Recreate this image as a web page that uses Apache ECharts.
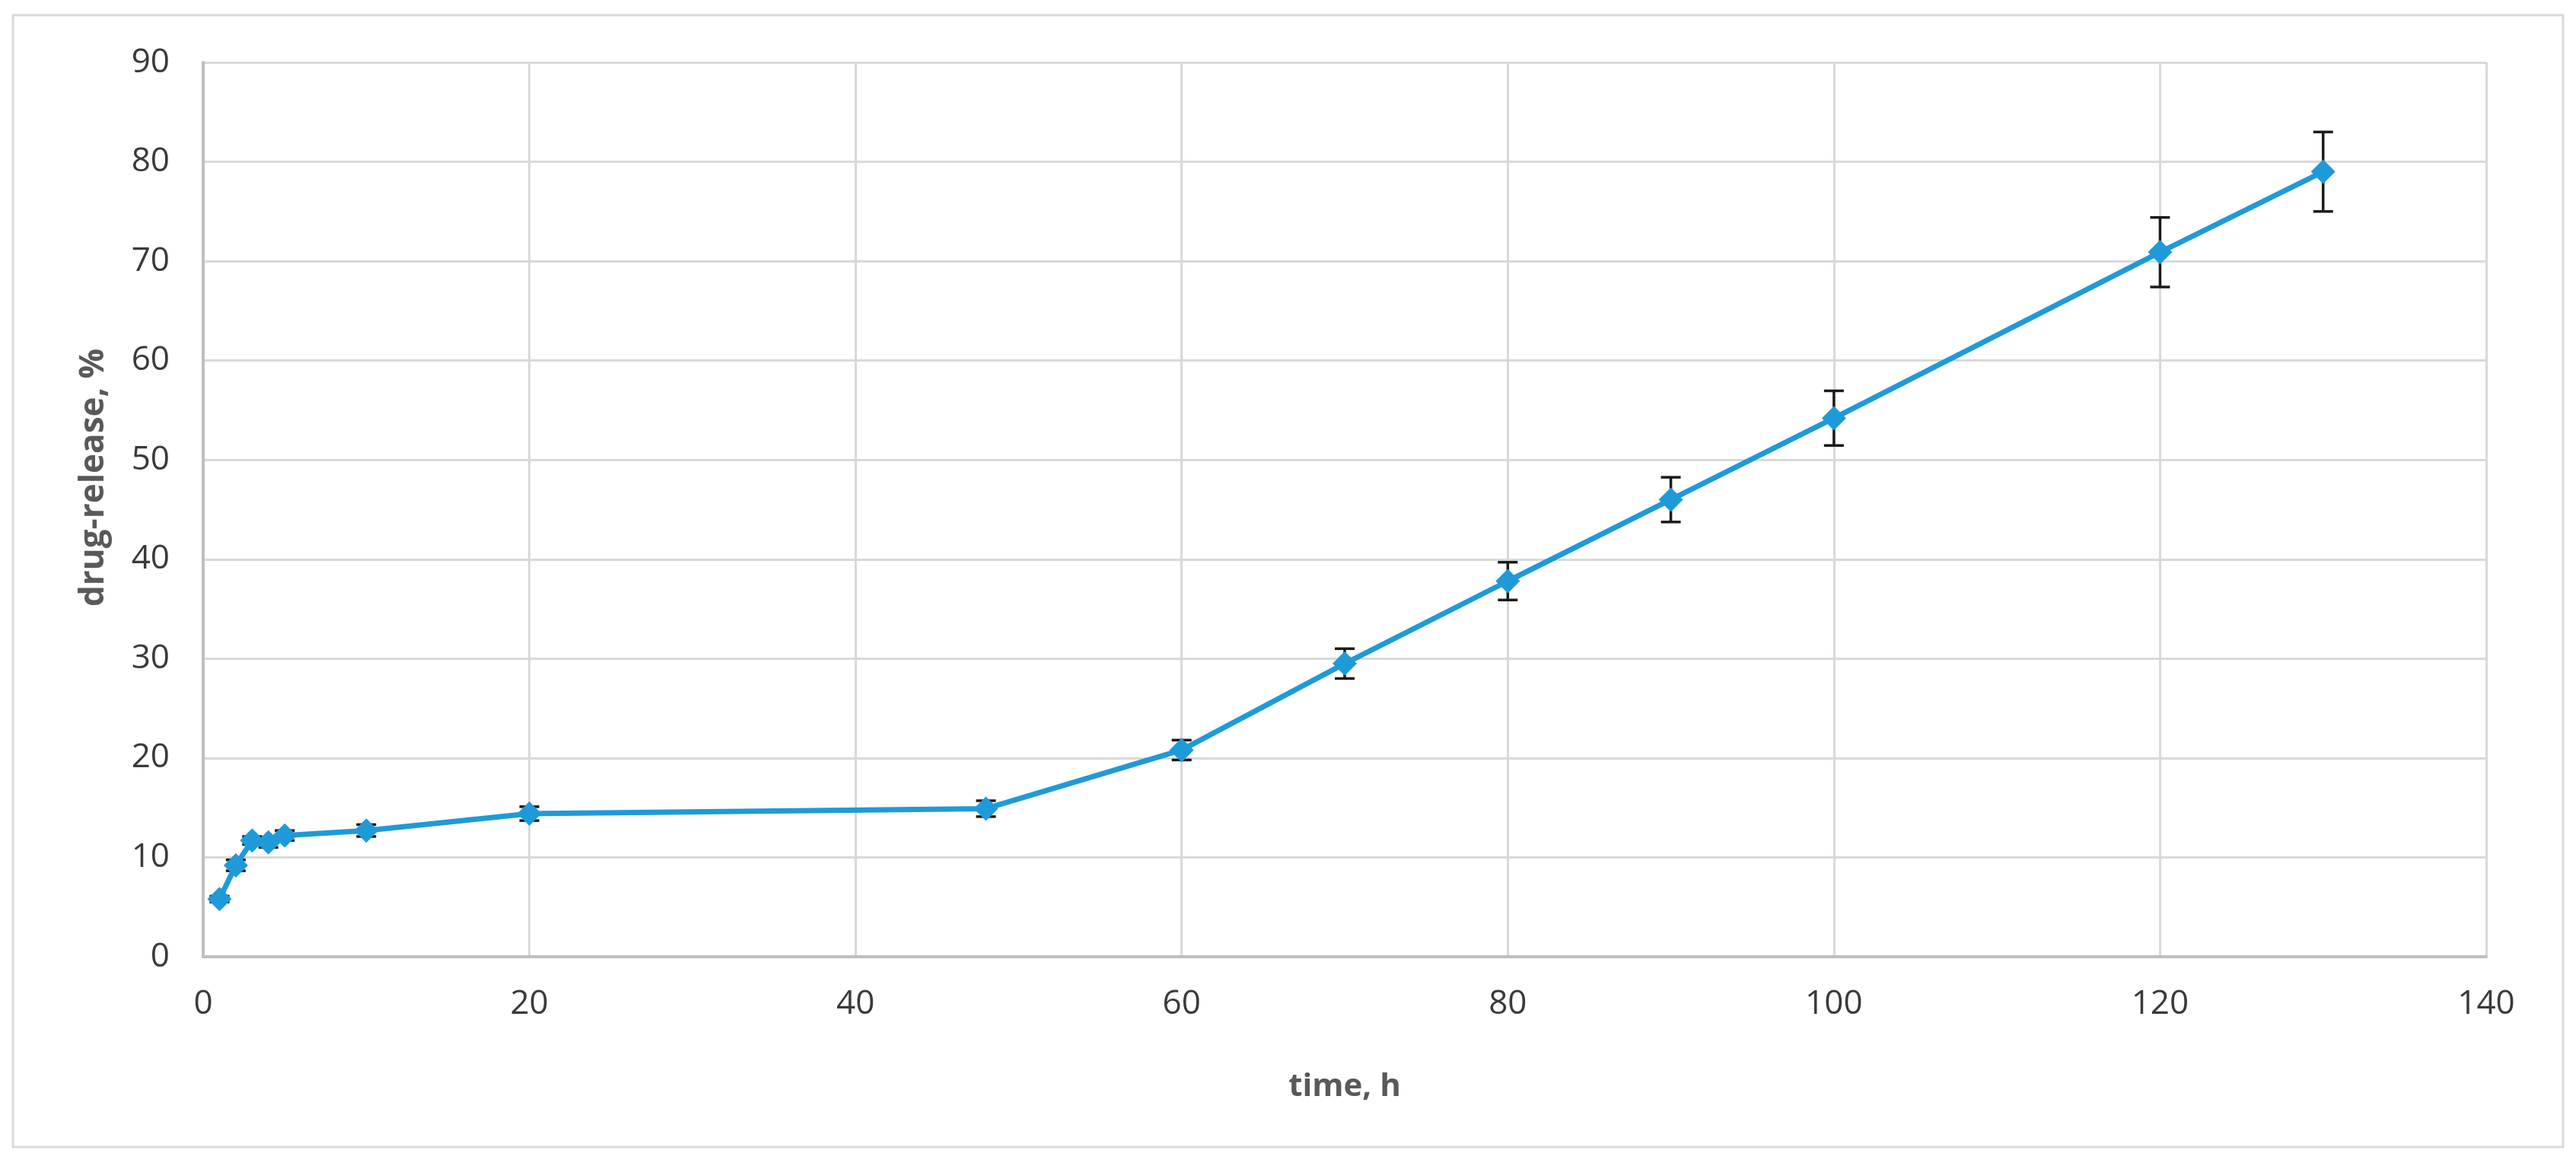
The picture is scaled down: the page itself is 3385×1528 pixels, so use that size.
<!DOCTYPE html>
<html>
<head>
<meta charset="utf-8">
<script src="https://cdn.jsdelivr.net/npm/echarts@6/dist/echarts.min.js"></script>
<style>
  html, body { margin: 0; padding: 0; background: #fff; }
  #main { width: 3385px; height: 1528px; }
</style>
</head>
<body>
<div id="main"></div>
<script>
// sampling times, h
const times = [1, 2, 3, 4, 5, 10, 20, 48, 60, 70, 80, 90, 100, 120, 130];
// mean drug release, %
const release = [5.8, 9.2, 11.7, 11.5, 12.2, 12.7, 14.4, 14.9, 20.8, 29.5, 37.8, 46.0, 54.2, 70.9, 79.0];
// standard deviation (error bar half-length), %
const errors = [0.3, 0.55, 0.4, 0.5, 0.5, 0.6, 0.7, 0.8, 1.0, 1.5, 1.9, 2.25, 2.75, 3.5, 4.0];

const lineColor = '#1f9ad8';
const pts = times.map((t, i) => [t, release[i]]);
const errData = times.map((t, i) => [t, release[i] - errors[i], release[i] + errors[i]]);

const chart = echarts.init(document.getElementById('main'));

chart.setOption({
  backgroundColor: '#fff',
  animation: false,
  graphic: [{
    type: 'rect',
    shape: { x: 17, y: 20, width: 3351, height: 1487 },
    style: { fill: 'none', stroke: '#d9d9d9', lineWidth: 3 },
    silent: true
  }],
  grid: { left: 267, top: 82, right: 118, bottom: 271 },
  xAxis: {
    type: 'value',
    min: 0, max: 140, interval: 20,
    name: 'time, h',
    nameLocation: 'middle',
    nameGap: 150,
    nameTextStyle: { fontFamily: 'Open Sans', fontSize: 42, fontWeight: 'bold', color: '#595959' },
    axisLine: { show: true, lineStyle: { color: '#bfbfbf', width: 4 } },
    axisTick: { show: false },
    axisLabel: { fontFamily: 'Open Sans', fontSize: 44, color: '#3a3a3a', margin: 40 },
    splitLine: { show: true, lineStyle: { color: '#d9d9d9', width: 3 } }
  },
  yAxis: {
    type: 'value',
    min: 0, max: 90, interval: 10,
    name: 'drug-release, %',
    nameLocation: 'middle',
    nameGap: 122,
    nameRotate: 90,
    nameTextStyle: { fontFamily: 'Open Sans', fontSize: 44, fontWeight: 'bold', color: '#595959', padding: [0, 0, 0, 84] },
    axisLine: { show: true, lineStyle: { color: '#bfbfbf', width: 4 } },
    axisTick: { show: false },
    axisLabel: { fontFamily: 'Open Sans', fontSize: 44, color: '#3a3a3a', margin: 44 },
    splitLine: { show: true, lineStyle: { color: '#d9d9d9', width: 3 } }
  },
  series: [
    {
      type: 'custom',
      data: errData,
      z: 2,
      renderItem: function (params, api) {
        const x = api.value(0);
        const lo = api.coord([x, api.value(1)]);
        const hi = api.coord([x, api.value(2)]);
        const half = 13;
        const st = { stroke: '#1a1a1a', lineWidth: 3.5 };
        return {
          type: 'group',
          children: [
            { type: 'line', shape: { x1: lo[0], y1: lo[1], x2: hi[0], y2: hi[1] }, style: st },
            { type: 'line', shape: { x1: lo[0] - half, y1: lo[1], x2: lo[0] + half, y2: lo[1] }, style: st },
            { type: 'line', shape: { x1: hi[0] - half, y1: hi[1], x2: hi[0] + half, y2: hi[1] }, style: st }
          ]
        };
      }
    },
    {
      type: 'line',
      data: pts,
      symbol: 'diamond',
      symbolSize: 32,
      lineStyle: { color: lineColor, width: 7 },
      itemStyle: { color: lineColor },
      z: 3
    }
  ]
});
</script>
</body>
</html>
